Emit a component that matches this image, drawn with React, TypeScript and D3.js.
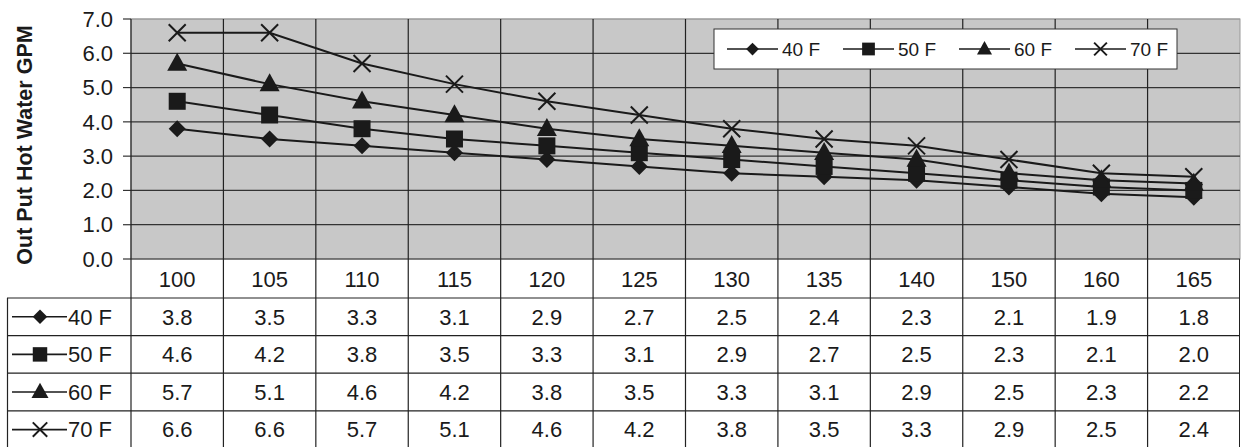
import React from "react";
import * as d3 from "d3";

const categories = ["100", "105", "110", "115", "120", "125", "130", "135", "140", "150", "160", "165"];
const seriesNames = ["40 F", "50 F", "60 F", "70 F"];
const s40 = [3.8, 3.5, 3.3, 3.1, 2.9, 2.7, 2.5, 2.4, 2.3, 2.1, 1.9, 1.8];
const s50 = [4.6, 4.2, 3.8, 3.5, 3.3, 3.1, 2.9, 2.7, 2.5, 2.3, 2.1, 2.0];
const s60 = [5.7, 5.1, 4.6, 4.2, 3.8, 3.5, 3.3, 3.1, 2.9, 2.5, 2.3, 2.2];
const s70 = [6.6, 6.6, 5.7, 5.1, 4.6, 4.2, 3.8, 3.5, 3.3, 2.9, 2.5, 2.4];
const seriesValues = [s40, s50, s60, s70];
const markers = ["diamond", "square", "triangle", "cross"];
const yTicks = [0, 1, 2, 3, 4, 5, 6, 7];

const W = 1242, H = 447;
const plotL = 131, plotR = 1240, plotT = 19, plotB = 259;
const tableL = 7;
const headerH = 39;
const rowH = 37.6;
const INK = "#1a1a1a";
const FONT = "Liberation Sans, Arial, sans-serif";

function Marker({ type, x, y, s = 1 }: { type: string; x: number; y: number; s?: number }) {
  if (type === "diamond") {
    const r = 8.5 * s;
    return <path d={`M${x},${y - r}L${x + r},${y}L${x},${y + r}L${x - r},${y}Z`} fill={INK} />;
  }
  if (type === "square") {
    const r = 8.5 * s;
    return <rect x={x - r} y={y - r} width={2 * r} height={2 * r} fill={INK} />;
  }
  if (type === "triangle") {
    const w = 10 * s, h = 18 * s;
    return <path d={`M${x},${y - h * 0.6}L${x + w},${y + h * 0.4}L${x - w},${y + h * 0.4}Z`} fill={INK} />;
  }
  const r = 8.5 * s;
  return (
    <path d={`M${x - r},${y - r}L${x + r},${y + r}M${x + r},${y - r}L${x - r},${y + r}`} stroke={INK} strokeWidth={2} />
  );
}

export default function App() {
  const x = d3.scaleBand<string>().domain(categories).range([plotL, plotR]);
  const y = d3.scaleLinear().domain([0, 7]).range([plotB, plotT]);
  const cx = (i: number) => (x(categories[i]) as number) + x.bandwidth() / 2;
  const line = d3
    .line<number>()
    .x((_, i) => cx(i))
    .y((d) => y(d));

  const tableBottom = plotB + headerH + rowH * 4;
  const legendX = 714, legendY = 29, legendW = 463, legendH = 40, legendStep = 116;

  return (
    <svg width={W} height={H} style={{ position: "absolute", left: 0, top: 0 }} fontFamily={FONT}>
      <rect x={0} y={0} width={W} height={H} fill="#fff" />
      {/* plot area */}
      <rect x={plotL} y={plotT} width={plotR - plotL} height={plotB - plotT} fill="#c8c8c8" stroke="#999" strokeWidth={1} />
      {yTicks.map((t) => (
        <line key={"h" + t} x1={plotL} x2={plotR} y1={y(t)} y2={y(t)} stroke={t === 7 ? "#999" : "#333"} strokeWidth={1.2} />
      ))}
      {yTicks.map((t) => (
        <line key={"tk" + t} x1={plotL - 8} x2={plotL} y1={y(t)} y2={y(t)} stroke="#333" strokeWidth={1.2} />
      ))}
      {categories.map((c) => (
        <line key={"v" + c} x1={x(c) as number} x2={x(c) as number} y1={plotT} y2={tableBottom} stroke="#222" strokeWidth={1.2} />
      ))}
      <line x1={plotR - 0.5} x2={plotR - 0.5} y1={plotB} y2={tableBottom} stroke="#222" />
      {yTicks.map((t) => (
        <text key={"yl" + t} x={plotL - 18} y={y(t)} dy="0.35em" textAnchor="end" fontSize={22} fill={INK}>
          {t.toFixed(1)}
        </text>
      ))}
      <text
        transform={`translate(32,${(plotT + plotB) / 2 + 6}) rotate(-90)`}
        textAnchor="middle"
        fontSize={21.5}
        fontWeight="bold"
        fill={INK}
      >
        Out Put Hot Water GPM
      </text>
      {/* series */}
      {seriesValues.map((vals, si) => (
        <g key={"s" + si}>
          <path d={line(vals) as string} fill="none" stroke={INK} strokeWidth={2} />
          {vals.map((v, i) => (
            <Marker key={i} type={markers[si]} x={cx(i)} y={y(v)} />
          ))}
        </g>
      ))}
      {/* legend */}
      <rect x={legendX} y={legendY} width={legendW} height={legendH} fill="#fff" stroke="#333" strokeWidth={1} />
      {seriesNames.map((n, si) => {
        const lx = legendX + 13 + si * legendStep;
        const cy = legendY + legendH / 2;
        return (
          <g key={"lg" + n}>
            <line x1={lx} x2={lx + 51} y1={cy} y2={cy} stroke={INK} strokeWidth={1.6} />
            <Marker type={markers[si]} x={lx + 25.5} y={cy} s={0.75} />
            <text x={lx + 55} y={cy} dy="0.35em" fontSize={19} fill={INK}>{n}</text>
          </g>
        );
      })}
      {/* table */}
      <line x1={tableL} x2={plotR} y1={plotB + headerH} y2={plotB + headerH} stroke="#222" strokeWidth={1.2} />
      {seriesNames.map((_, si) => (
        <line key={"rl" + si} x1={tableL} x2={plotR} y1={plotB + headerH + rowH * (si + 1)} y2={plotB + headerH + rowH * (si + 1)} stroke="#222" strokeWidth={1.2} />
      ))}
      <line x1={tableL + 0.5} x2={tableL + 0.5} y1={plotB + headerH} y2={tableBottom} stroke="#222" strokeWidth={1.2} />
      {categories.map((c, i) => (
        <text key={"hd" + c} x={cx(i)} y={plotB + headerH / 2 + 1} dy="0.35em" textAnchor="middle" fontSize={22} fill={INK}>
          {c}
        </text>
      ))}
      {seriesNames.map((n, si) => {
        const cy = plotB + headerH + rowH * si + rowH / 2;
        return (
          <g key={"row" + n}>
            <line x1={12} x2={67} y1={cy} y2={cy} stroke={INK} strokeWidth={1.6} />
            <Marker type={markers[si]} x={40} y={cy} s={0.85} />
            <text x={68} y={cy} dy="0.35em" fontSize={22} fill={INK}>{n}</text>
            {seriesValues[si].map((v, i) => (
              <text key={i} x={cx(i)} y={cy} dy="0.35em" textAnchor="middle" fontSize={22} fill={INK}>
                {v.toFixed(1)}
              </text>
            ))}
          </g>
        );
      })}
    </svg>
  );
}
